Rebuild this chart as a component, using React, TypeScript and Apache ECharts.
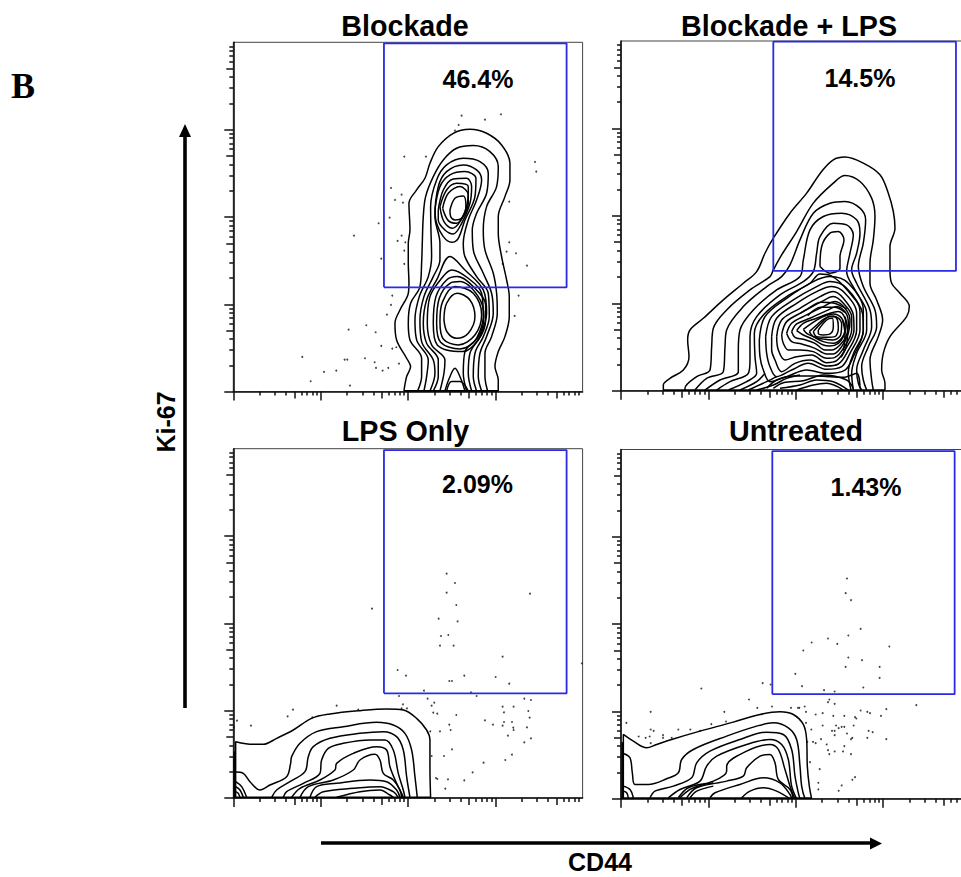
import React, { useEffect, useRef } from "react";
import * as echarts from "echarts";

type Pt = [number, number];

const panelTitles = ["Blockade", "Blockade + LPS", "LPS Only", "Untreated"];
const gatePercents = ["46.4%", "14.5%", "2.09%", "1.43%"];
const axisMax = 1048;
const majorTicks = [0, 262, 524, 786];
const decadeMid = [183];
const decadeMinor = [79, 125, 158, 204, 221, 237, 250];

const gateBlockade: Pt[] = [[452, 313], [1000, 313], [1000, 1045], [452, 1045], [452, 313]];
const gateBlockadeLps: Pt[] = [[457, 359], [1005, 359], [1005, 1046], [457, 1046], [457, 359]];
const gateLpsOnly: Pt[] = [[452, 314], [1000, 314], [1000, 1044], [452, 1044], [452, 314]];
const gateUntreated: Pt[] = [[454, 314], [1001, 314], [1001, 1043], [454, 1043], [454, 314]];

const dotsBlockade: Pt[] = [[685,828],[755,816],[803,832],[676,800],[665,783],[513,705],[578,705],[905,689],[909,660],[473,611],[505,591],[485,575],[509,567],[828,570],[469,522],[436,505],[362,468],[505,468],[493,452],[516,448],[828,448],[513,423],[820,420],[848,415],[444,399],[513,383],[808,383],[881,378],[477,288],[856,288],[473,260],[461,231],[844,227],[399,199],[346,186],[427,178],[444,137],[489,133],[477,129],[207,104],[334,96],[342,96],[395,100],[424,88],[497,84],[465,71],[428,71],[448,63],[309,63],[272,59],[232,31],[350,18]];
const dotsBlockadeLps: Pt[] = [];
const dotsLpsOnly: Pt[] = [[640,673],[665,645],[640,616],[890,613],[669,579],[616,538],[673,530],[623,486],[645,489],[620,457],[661,457],[808,424],[493,384],[518,367],[648,351],[656,351],[693,367],[787,363],[828,343],[572,322],[713,317],[416,568],[1046,404],[497,306],[730,306],[583,298],[603,286],[595,277],[509,281],[521,269],[505,269],[310,277],[179,265],[163,245],[237,242],[53,217],[11,232],[2,212],[375,265],[600,256],[612,253],[669,249],[873,298],[893,294],[808,274],[841,274],[812,257],[885,261],[889,241],[755,233],[812,228],[836,228],[779,220],[808,217],[648,220],[652,204],[620,200],[591,200],[840,211],[841,204],[881,212],[824,187],[893,179],[873,167],[656,146],[632,126],[595,126],[836,130],[816,114],[751,106],[718,77],[693,53],[644,56],[608,60],[612,57],[636,28]];
const dotsUntreated: Pt[] = [[678,661],[674,617],[690,596],[719,510],[682,490],[621,481],[572,469],[649,465],[805,457],[547,445],[682,424],[723,416],[674,396],[776,396],[523,375],[776,363],[543,338],[727,334],[609,326],[641,322],[425,347],[449,343],[241,331],[384,298],[625,298],[621,290],[641,285],[886,281],[409,273],[453,277],[510,273],[531,273],[535,273],[551,277],[89,261],[310,261],[555,261],[584,253],[605,257],[637,249],[670,249],[702,245],[706,241],[719,265],[739,261],[747,257],[780,249],[796,269],[16,228],[271,224],[315,232],[555,228],[605,220],[645,220],[653,212],[662,216],[670,216],[698,220],[89,208],[98,204],[172,208],[208,208],[237,204],[633,204],[641,204],[743,204],[755,200],[678,196],[641,191],[53,187],[74,183],[86,187],[126,191],[126,183],[152,183],[571,208],[559,171],[576,171],[584,167],[600,179],[694,183],[690,179],[739,183],[796,179],[89,167],[617,163],[670,158],[621,146],[641,142],[666,142],[625,134],[690,134],[567,110],[596,89],[702,65],[694,57],[592,48],[662,40],[592,28],[653,24]];

const openBlockade: Pt[][] = [
  [[512,2],[520,45],[532,75],[520,100],[490,155],[485,205],[500,245],[525,295],[527,325],[525,385],[525,445],[530,485],[527,565],[550,605],[575,640],[590,685],[615,735],[660,775],[710,787],[760,775],[805,740],[830,685],[830,635],[815,585],[795,525],[795,475],[805,405],[820,335],[828,285],[828,225],[815,165],[795,120],[785,75],[795,35],[795,2]],
  [[553,2],[565,45],[565,100],[530,155],[525,205],[532,265],[560,315],[565,385],[567,445],[570,525],[577,585],[600,645],[630,695],[670,730],[720,738],[770,720],[795,675],[790,615],[760,555],[750,485],[755,425],[780,355],[790,295],[792,235],[775,165],[755,115],[755,45],[763,2]],
  [[572,2],[580,45],[585,95],[550,155],[545,215],[558,285],[585,345],[595,405],[593,485],[592,555],[610,635],[640,680],[690,700],[740,690],[765,655],[760,595],[730,535],[717,485],[720,425],[750,355],[775,295],[780,235],[760,165],[740,115],[735,45],[745,2]],
  [[590,2],[605,55],[600,95],[565,150],[560,215],[572,285],[600,345],[620,395],[620,445],[605,525],[615,615],[640,660],[690,680],[730,665],[745,635],[730,575],[705,515],[690,445],[695,405],[730,345],[765,295],[768,225],[750,165],[725,115],[720,45],[730,2]],
  [[600,2],[615,45],[615,95],[580,145],[570,205],[580,275],[610,335],[650,405],[695,365],[750,305],[760,235],[740,165],[710,115],[705,55],[715,2]],
  [[620,2],[632,55],[635,95],[595,140],[582,205],[590,285],[625,340],[655,365],[705,340],[745,295],[750,225],[730,160],[695,120],[690,55],[700,2]],
  [[635,2],[648,40],[665,70],[682,40],[695,2]],
  [[640,2],[655,30],[680,30],[705,2]],
  [[512,2],[795,2]],
];
const ringsBlockade: Pt[][] = [
  [[605,545],[620,615],[650,650],[695,660],[728,640],[725,585],[695,515],[675,460],[655,448],[630,465],[610,505]],
  [[615,545],[630,605],[660,638],[700,640],[715,615],[710,565],[685,505],[660,473],[635,485],[615,515]],
  [[620,555],[640,605],[670,625],[705,615],[705,565],[680,510],[657,490],[632,510]],
  [[628,550],[645,595],[680,615],[705,590],[695,540],[670,505],[645,513]],
  [[650,545],[665,580],[690,587],[698,555],[685,520],[665,515],[652,525]],
  [[600,205],[608,285],[640,335],[672,345],[725,310],[757,260],[757,215],[735,155],[688,120],[612,140]],
  [[610,205],[618,280],[650,325],[680,330],[735,285],[752,225],[732,160],[680,128],[622,148]],
  [[620,210],[628,270],[665,315],[720,295],[745,230],[725,170],[675,140],[630,158]],
  [[632,215],[640,265],[672,295],[710,275],[725,225],[705,175],[670,160],[642,178]],
];

const openBlockadeLps: Pt[][] = [
  [[127,2],[127,17],[147,37],[187,62],[204,102],[200,152],[207,182],[247,217],[307,272],[367,322],[407,357],[432,412],[457,457],[507,532],[557,592],[602,657],[637,692],[672,700],[727,682],[777,647],[802,592],[817,537],[822,487],[807,432],[807,362],[812,322],[837,292],[865,252],[857,222],[807,162],[787,112],[782,62],[792,22],[792,2]],
  [[192,2],[192,7],[227,42],[267,62],[272,132],[277,187],[317,242],[387,302],[447,342],[457,362],[482,407],[527,477],[577,562],[637,622],[672,645],[717,627],[752,577],[762,522],[757,452],[747,382],[747,322],[767,272],[785,212],[772,162],[747,92],[752,32],[757,2]],
  [[222,2],[257,37],[307,57],[312,132],[317,182],[367,252],[437,312],[482,342],[507,377],[537,452],[577,532],[627,562],[672,567],[717,547],[734,512],[727,442],[712,372],[727,312],[762,242],[767,192],[742,132],[722,72],[727,32],[737,2]],
  [[252,2],[297,32],[352,57],[352,122],[357,182],[397,242],[467,302],[537,342],[547,392],[567,482],[607,522],[662,532],[707,512],[717,472],[707,412],[692,362],[707,322],[747,242],[752,192],[727,122],[707,62],[712,22],[722,2]],
  [[287,2],[327,27],[382,52],[387,92],[387,162],[407,222],[477,287],[547,327],[577,357],[587,412],[597,462],[637,502],[677,497],[697,467],[687,412],[677,357],[702,302],[737,232],[737,182],[707,112],[692,52],[697,2]],
  [[322,2],[377,27],[407,52],[402,102],[400,172],[427,227],[497,282],[567,322],[597,350],[630,345],[680,300],[725,230],[727,180],[697,110],[682,55],[690,2]],
  [[357,2],[407,27],[432,52]],
  [[382,2],[437,27],[467,42]],
  [[407,2],[457,17],[497,37],[537,47]],
  [[437,7],[467,32],[517,44],[587,44],[667,40],[707,52],[717,7]],
  [[457,7],[487,24],[547,30],[607,47],[677,32],[697,7]],
  [[477,7],[537,17],[587,32],[637,27],[682,2]],
  [[527,2],[577,17],[617,22],[667,2]],
  [[537,232],[560,245],[600,265],[640,262],[677,245]],
  [[560,225],[600,250],[640,250],[672,235]],
  [[672,222],[680,180],[675,130],[660,100]],
  [[665,210],[672,170],[668,120]],
  [[127,2],[792,2]],
];
const ringsBlockadeLps: Pt[][] = [
  [[597,372],[602,432],[627,472],[652,477],[669,452],[657,402],[657,367],[627,352]],
  [[415,152],[432,222],[497,277],[577,327],[627,342],[682,322],[727,242],[727,182],[697,102],[672,62],[617,52],[557,62],[497,42],[447,27],[427,62],[417,102]],
  [[434,162],[452,222],[517,272],[587,312],[627,327],[677,307],[717,237],[717,182],[687,112],[662,72],[617,64],[562,82],[512,62],[467,42],[447,72],[437,112]],
  [[452,162],[467,217],[527,262],[587,297],[632,312],[672,292],[707,232],[707,182],[677,112],[652,80],[617,74],[567,92],[522,82],[482,57],[462,92],[452,122]],
  [[467,162],[482,212],[537,247],[597,282],[637,297],[667,277],[697,227],[699,182],[672,122],[647,90],[617,84],[572,107],[527,102],[492,92],[472,122]],
  [[482,167],[497,207],[547,237],[602,267],[637,282],[667,262],[692,222],[692,182],[667,127],[642,100],[617,97],[577,117],[537,122],[502,122],[487,142]],
  [[497,172],[512,202],[557,227],[607,252],[642,267],[672,247],[687,212],[682,172],[662,132],[637,110],[617,110],[582,127],[542,140],[512,147]],
  [[512,177],[527,200],[567,217],[617,240],[647,252],[675,232],[682,202],[677,167],[657,137],[632,122],[612,122],[582,142],[547,154],[522,160]],
  [[527,180],[547,202],[587,217],[627,232],[652,237],[672,217],[675,192],[667,162],[652,142],[627,134],[607,137],[577,154],[547,167]],
  [[547,184],[572,202],[607,222],[637,230],[662,217],[672,182],[662,157],[637,142],[607,147],[577,162],[557,172]],
  [[565,177],[587,197],[612,217],[637,224],[662,202],[659,167],[637,152],[607,155],[577,162]],
  [[577,177],[602,204],[627,222],[647,217],[652,187],[642,162],[617,160],[587,162]],
  [[592,182],[617,212],[634,217],[637,192],[627,170],[607,167],[592,172]],
];

const openLpsOnly: Pt[][] = [
  [[7,0],[7,169],[60,161],[90,161],[130,179],[180,204],[235,239],[290,252],[380,262],[460,267],[510,264],[550,239],[580,204],[590,174],[590,94],[592,0]],
  [[7,78],[30,74],[50,49],[80,24],[110,39],[160,64],[172,104],[175,124],[200,164],[250,199],[330,214],[430,227],[480,219],[515,194],[535,144],[545,64],[552,2]],
  [[115,2],[130,24],[170,49],[215,79],[225,124],[240,154],[290,179],[380,194],[450,199],[490,184],[510,144],[520,64],[530,2]],
  [[150,2],[160,19],[210,44],[260,74],[265,114],[285,149],[330,164],[410,174],[455,174],[480,144],[495,74],[510,24],[515,2]],
  [[175,2],[200,29],[260,54],[305,84],[310,104],[360,134],[430,154],[460,144],[470,94],[490,44],[505,14],[510,2]],
  [[200,2],[225,34],[300,54],[360,84],[380,114],[425,131],[440,114],[450,74],[480,54],[500,24],[505,2]],
  [[230,2],[250,34],[310,44],[410,54],[460,49],[490,24],[500,2]],
  [[245,2],[270,19],[360,29],[440,34],[480,19],[495,2]],
  [[310,2],[380,19],[440,24],[470,9],[480,2]],
  [[7,49],[25,34],[40,2]],
  [[7,34],[20,24],[30,2]],
  [[7,19],[15,14],[20,2]],
  [[3,2],[3,140]],
  [[0,2],[592,2]],
];

const openUntreated: Pt[][] = [
  [[7,0],[7,193],[37,173],[77,153],[107,163],[152,178],[237,203],[337,230],[417,253],[477,261],[517,253],[547,223],[557,178],[559,98],[565,38],[572,0]],
  [[7,136],[27,123],[34,78],[42,43],[82,43],[137,60],[172,78],[182,118],[217,148],[317,188],[407,218],[457,228],[502,213],[527,178],[537,98],[542,38],[552,0]],
  [[87,3],[102,23],[157,38],[212,63],[227,108],[267,143],[357,178],[437,200],[487,193],[512,148],[522,68],[532,18],[537,0]],
  [[142,3],[177,28],[237,53],[257,98],[287,128],[377,163],[447,178],[482,163],[502,118],[512,38],[527,0]],
  [[172,3],[202,33],[277,53],[317,83],[317,98],[377,143],[447,163],[472,148],[492,88],[507,38],[522,0]],
  [[197,3],[227,33],[317,53],[367,68],[377,93],[417,128],[447,133],[462,108],[472,58],[507,28],[517,0]],
  [[267,3],[282,18],[357,43],[427,63],[477,48],[507,13],[512,0]],
  [[362,3],[387,23],[427,33],[467,23],[507,0]],
  [[177,3],[207,28],[237,40],[277,48]],
  [[207,3],[227,23],[277,38]],
  [[7,38],[27,28],[37,3]],
  [[7,23],[17,18],[22,3]],
  [[4,3],[4,170]],
  [[0,2],[572,2]],
];

const panelOpen = [openBlockade, openBlockadeLps, openLpsOnly, openUntreated];
const panelRings = [ringsBlockade, ringsBlockadeLps, [] as Pt[][], [] as Pt[][]];
const panelDots = [dotsBlockade, dotsBlockadeLps, dotsLpsOnly, dotsUntreated];
const panelGates = [gateBlockade, gateBlockadeLps, gateLpsOnly, gateUntreated];

const gridBoxes = [
  { left: 233.3, top: 42.3, width: 349.3, height: 349.3 },
  { left: 621, top: 41, width: 349.3, height: 349.7 },
  { left: 233.3, top: 448.7, width: 349.3, height: 349.3 },
  { left: 621, top: 449.5, width: 349.3, height: 349.3 },
];
const titleCenters: Pt[] = [[405, 26], [789, 26], [405.5, 431], [796, 431]];
const percentCenters: Pt[] = [[478, 79], [860, 78], [477.5, 484], [866, 487]];

const decadeTicks = (offsets: number[]) => majorTicks.flatMap((m) => offsets.map((o) => m + o));

function axisSet(kind: "x" | "y", gridIndex: number) {
  const levels = [
    { values: majorTicks, length: 9, line: true },
    { values: decadeTicks(decadeMid), length: 7, line: false },
    { values: decadeTicks(decadeMinor), length: 4, line: false },
  ];
  return levels.map((l) => ({
    type: "value" as const,
    gridIndex,
    min: 0,
    max: axisMax,
    position: kind === "x" ? "bottom" : "left",
    splitLine: { show: false },
    axisLabel: { show: false },
    axisLine: { show: l.line, onZero: false, lineStyle: { color: "#111", width: 1.6 } },
    axisTick: {
      show: true,
      inside: false,
      length: l.length,
      customValues: l.values,
      lineStyle: { color: "#111", width: 1.5 },
    },
  }));
}

function textEl(text: string, c: Pt, size: number, extra: object = {}) {
  return {
    type: "text",
    x: c[0],
    y: c[1],
    silent: true,
    style: {
      text,
      fill: "#000",
      font: `bold ${size}px "Liberation Sans", Arial, sans-serif`,
      align: "center",
      verticalAlign: "middle",
    },
    ...extra,
  };
}

function buildOption() {
  const series: any[] = [];
  panelOpen.forEach((open, i) => {
    const axisIdx = i * 3;
    const line = (data: Pt[], id: string, color = "#000", width = 1.5, smooth: number | boolean = 0.35, z = 3) => ({
      type: "line",
      name: id,
      xAxisIndex: axisIdx,
      yAxisIndex: axisIdx,
      data,
      symbol: "none",
      smooth,
      silent: true,
      z,
      lineStyle: { color, width },
    });
    open.forEach((c, k) => {
      const straight = c.length === 2;
      series.push(line(c, `${panelTitles[i]} contour ${k}`, "#000", straight ? 1.8 : 1.5, straight ? false : 0.35));
    });
    panelRings[i].forEach((c, k) => {
      series.push(line([...c, c[0]], `${panelTitles[i]} ring ${k}`));
    });
    if (panelDots[i].length) {
      series.push({
        type: "scatter",
        name: `${panelTitles[i]} events`,
        xAxisIndex: axisIdx,
        yAxisIndex: axisIdx,
        data: panelDots[i],
        symbol: "circle",
        symbolSize: 1.9,
        silent: true,
        itemStyle: { color: "#111" },
        z: 3,
      });
    }
    series.push(line(panelGates[i], `${panelTitles[i]} gate`, "#2a2ae6", 1.8, false, 5));
  });

  const graphic: any[] = [
    {
      type: "text",
      x: 11,
      y: 86,
      silent: true,
      style: { text: "B", fill: "#000", font: 'bold 36px "Liberation Serif", serif', align: "left", verticalAlign: "middle" },
    },
    ...panelTitles.map((t, i) => textEl(t, titleCenters[i], 28.7)),
    ...gatePercents.map((t, i) => textEl(t, percentCenters[i], 25)),
    textEl("CD44", [600, 862], 25),
    textEl("Ki-67", [166, 422], 25, { rotation: Math.PI / 2, x: 166, y: 422 }),
    { type: "line", silent: true, shape: { x1: 185, y1: 708, x2: 185, y2: 134 }, style: { stroke: "#000", lineWidth: 3.6 } },
    { type: "polygon", silent: true, shape: { points: [[185, 124], [191, 137], [179, 137]] }, style: { fill: "#000" } },
    { type: "line", silent: true, shape: { x1: 321, y1: 843, x2: 872, y2: 843 }, style: { stroke: "#000", lineWidth: 3.6 } },
    { type: "polygon", silent: true, shape: { points: [[882, 843.5], [870, 837.5], [870, 849.5]] }, style: { fill: "#000" } },
  ];

  return {
    animation: false,
    backgroundColor: "#fff",
    grid: gridBoxes.map((g) => ({
      ...g,
      show: true,
      borderColor: "#444",
      borderWidth: 1,
      containLabel: false,
      outerBoundsMode: "none",
      backgroundColor: "transparent",
    })),
    xAxis: gridBoxes.flatMap((_, i) => axisSet("x", i)),
    yAxis: gridBoxes.flatMap((_, i) => axisSet("y", i)),
    series,
    graphic,
  };
}

export default function App() {
  const ref = useRef<HTMLDivElement>(null);
  useEffect(() => {
    document.body.style.margin = "0";
    const chart = echarts.init(ref.current!, undefined, { renderer: "svg" });
    chart.setOption(buildOption() as any);
    return () => chart.dispose();
  }, []);
  return <div ref={ref} style={{ width: 961, height: 877, overflow: "hidden" }} />;
}
